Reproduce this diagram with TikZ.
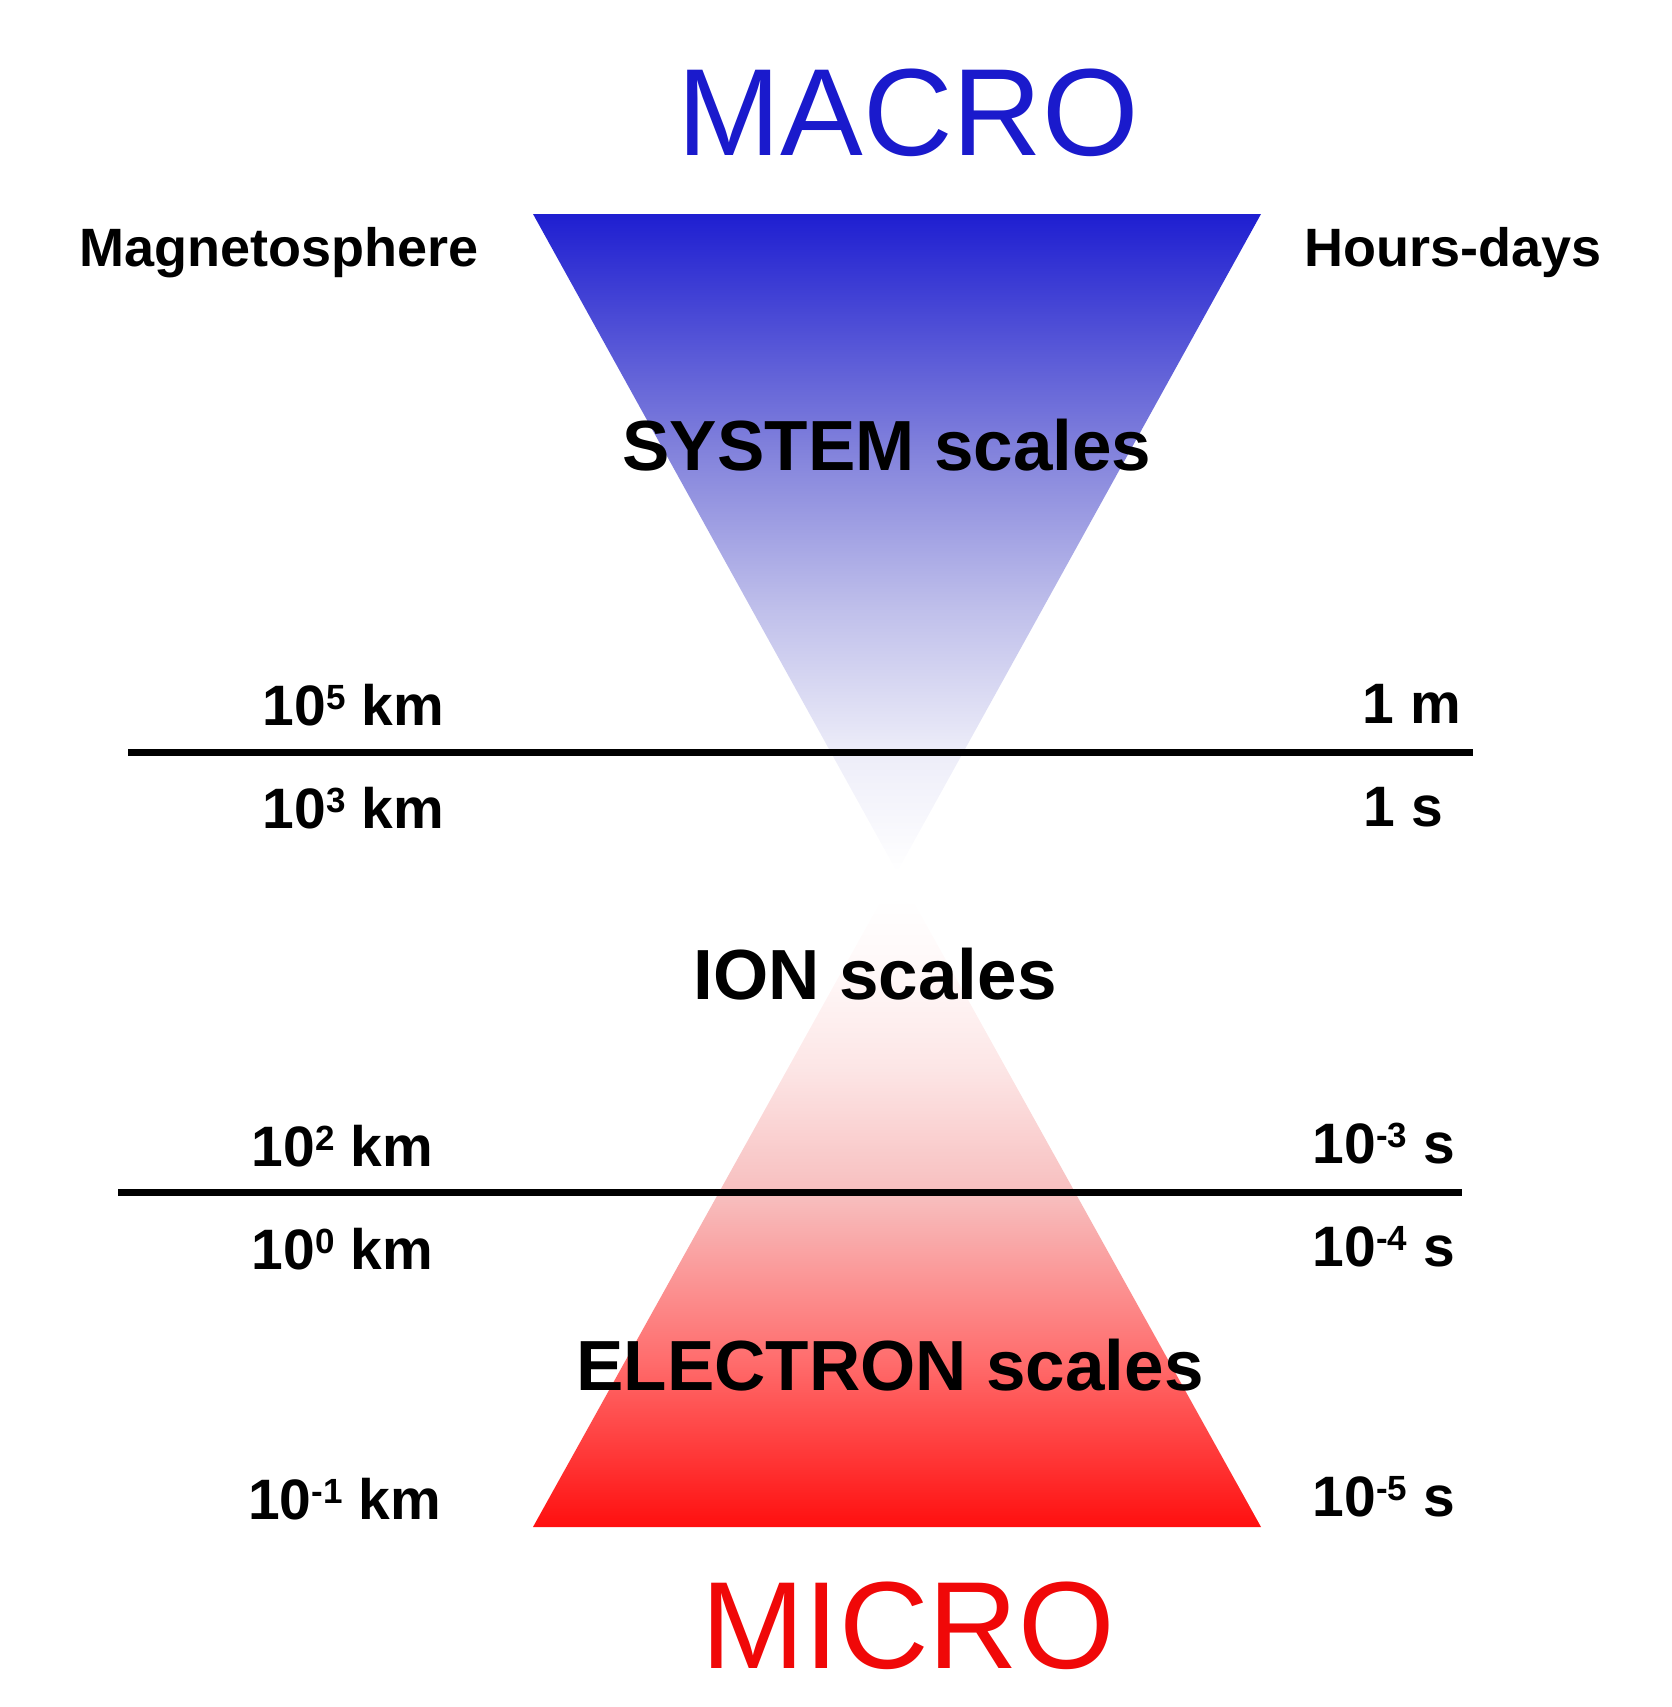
\documentclass[tikz,border=0pt]{standalone}
\usepackage{fontspec}
\setmainfont{Liberation Sans}
\definecolor{macroblue}{RGB}{26,26,204}
\definecolor{microred}{RGB}{240,8,8}
\pgfdeclareverticalshading{bluefade}{100bp}{rgb(0bp)=(1,1,1); rgb(25bp)=(1,1,1); rgb(34bp)=(0.93,0.93,0.975); rgb(45bp)=(0.75,0.75,0.92); rgb(57.5bp)=(0.5,0.5,0.86); rgb(75bp)=(0.12,0.12,0.82); rgb(100bp)=(0.12,0.12,0.82)}
\pgfdeclareverticalshading{redfade}{100bp}{rgb(0bp)=(1,0.06,0.06); rgb(25bp)=(1,0.06,0.06); rgb(37.5bp)=(1,0.42,0.42); rgb(50bp)=(0.97,0.74,0.74); rgb(60bp)=(0.99,0.9,0.9); rgb(67bp)=(1,0.97,0.97); rgb(73bp)=(1,1,1); rgb(100bp)=(1,1,1)}
\newcommand\supx[1]{\raisebox{16pt}{\fontsize{35}{35}\selectfont #1}}
\begin{document}
\begin{tikzpicture}[x=1pt,y=-1pt,
  bigword/.style={inner sep=0pt,anchor=base,font=\fontsize{124}{130}\selectfont},
  scalelbl/.style={inner sep=0pt,anchor=base,font=\fontsize{71}{80}\selectfont\bfseries},
  sidelbl/.style={inner sep=0pt,font=\fontsize{54}{60}\selectfont\bfseries},
  numlbl/.style={inner sep=0pt,font=\fontsize{57}{64}\selectfont\bfseries},
  divider/.style={line width=7pt}]
\useasboundingbox (0,0) rectangle (1671,1707);
% triangles
\shade[shading=bluefade] (533,214) -- (1261,214) -- (897,872) -- cycle;
\shade[shading=redfade] (533,1527) -- (1261,1527) -- (897,872) -- cycle;
% dividers
\coordinate (d1a) at (128,752);
\coordinate (d1b) at (1473,752);
\coordinate (d2a) at (118,1192);
\coordinate (d2b) at (1462,1192);
\draw[divider] (d1a) -- (d1b);
\draw[divider] (d2a) -- (d2b);
% big words
\node[bigword,text=macroblue] (macro) at (908,156) {MACRO};
\node[bigword,text=microred] (micro) at (908,1668) {MICRO};
% side labels
\node[sidelbl,anchor=base west] (mag) at (79,266) {Magnetosphere};
\node[sidelbl,anchor=base west] (hours) at (1304,266) {Hours-days};
% scale labels
\node[scalelbl] (system) at (887,470) {SYSTEM scales};
\node[scalelbl] (ion) at (875,999) {ION scales};
\node[scalelbl] (electron) at (890,1390) {ELECTRON scales};
% left numbers
\node[numlbl,anchor=base east] (l5) at (444,725) {10\supx{5} km};
\node[numlbl,anchor=base east] (l3) at (444,828) {10\supx{3} km};
\node[numlbl,anchor=base east] (l2) at (433,1166) {10\supx{2} km};
\node[numlbl,anchor=base east] (l0) at (433,1269) {10\supx{0} km};
\node[numlbl,anchor=base east] (lm1) at (441,1519) {10\supx{-1} km};
% right numbers
\node[numlbl,anchor=base east] (r1m) at (1461,723) {1 m};
\node[numlbl,anchor=base east] (r1s) at (1443,826) {1 s};
\node[numlbl,anchor=base east] (rm3) at (1455,1163) {10\supx{-3} s};
\node[numlbl,anchor=base east] (rm4) at (1455,1266) {10\supx{-4} s};
\node[numlbl,anchor=base east] (rm5) at (1455,1516) {10\supx{-5} s};
\end{tikzpicture}
\end{document}
